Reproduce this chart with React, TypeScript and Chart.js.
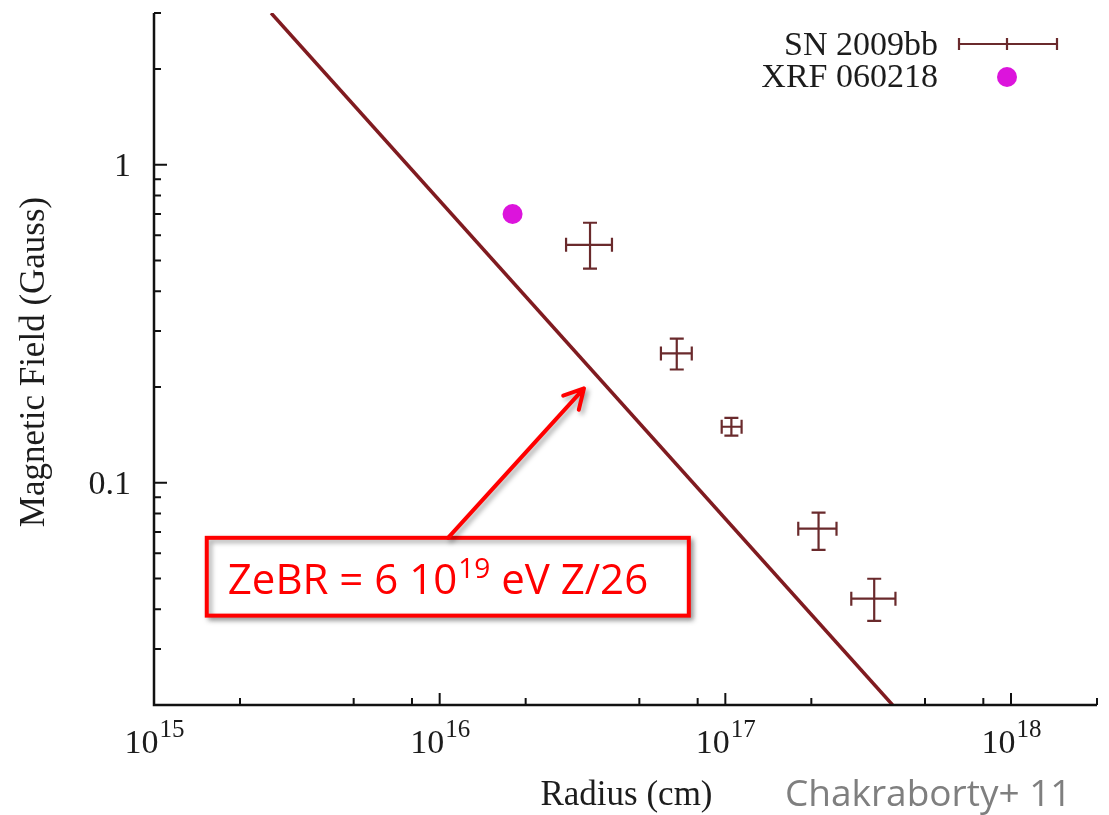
import React, { useEffect, useRef } from 'react';
import { Chart, registerables } from 'chart.js';

Chart.register(...registerables);

// ---- Data ----
const snRadius = [3.36e16, 6.76e16, 1.05e17, 2.12e17, 3.32e17];
const snField = [0.56, 0.255, 0.15, 0.0717, 0.0432];
const snRadiusLow = [2.77e16, 5.95e16, 9.71e16, 1.8e17, 2.76e17];
const snRadiusHigh = [4.01e16, 7.63e16, 1.14e17, 2.45e17, 3.94e17];
const snFieldLow = [0.471, 0.227, 0.1406, 0.0615, 0.0368];
const snFieldHigh = [0.657, 0.284, 0.16, 0.0805, 0.0499];

const xrfRadius = [1.8e16];
const xrfField = [0.7];

const limitRadius = [2.57e15, 3.85e17];
const limitField = [3, 0.02];

// ---- Axes / ticks ----
const X_MIN = 1e15;
const X_MAX = 2e18;
const Y_MIN = 0.02;
const Y_MAX = 3;
const xMajorTicks = [1e15, 1e16, 1e17, 1e18];
const xMajorExponents = ['15', '16', '17', '18'];
const xMinorMultipliers = [2, 5, 8];
const yMajorTicks = [1, 0.1];
const yMajorLabels = ['1', '0.1'];
const yMinorMultipliers = [2, 3, 4, 5, 6, 7, 8, 9];
const yDecades = [0.01, 0.1, 1];

const legendLabels = ['SN 2009bb', 'XRF 060218'];
const xTitle = 'Radius (cm)';
const yTitle = 'Magnetic Field (Gauss)';
const creditText = 'Chakraborty+ 11';

// annotation anchors in data space
const arrowTail = { x: 1.07e16, y: 0.0671 };
const arrowTip = { x: 3.2e16, y: 0.198 };
const noteBox = { x1: 1.53e15, x2: 7.45e16, y1: 0.0671, y2: 0.0382 };
const notePre = 'ZeBR = 6 10';
const noteSup = '19';
const notePost = ' eV Z/26';

const LINE_COLOR = '#801b20';
const ERR_COLOR = '#6a2a2c';
const XRF_COLOR = '#dc14dc';
const AXIS_COLOR = '#111111';
const TEXT_COLOR = '#1c1c1c';
const SERIF = '"Liberation Serif", "DejaVu Serif", serif';
const SANS = '"Open Sans", "Noto Sans", sans-serif';

const customPlugin = {
  id: 'customDraw',
  afterDatasetsDraw(chart: any) {
    const { ctx, chartArea: ca, scales } = chart;
    const px = (v: number) => scales.x.getPixelForValue(v);
    const py = (v: number) => scales.y.getPixelForValue(v);

    ctx.save();
    // error bars
    ctx.strokeStyle = ERR_COLOR;
    ctx.lineWidth = 2.2;
    const cap = 7;
    snRadius.forEach((r, i) => {
      const cx = px(r), cy = py(snField[i]);
      const x1 = px(snRadiusLow[i]), x2 = px(snRadiusHigh[i]);
      const y1 = py(snFieldHigh[i]), y2 = py(snFieldLow[i]);
      ctx.beginPath();
      ctx.moveTo(x1, cy); ctx.lineTo(x2, cy);
      ctx.moveTo(x1, cy - cap); ctx.lineTo(x1, cy + cap);
      ctx.moveTo(x2, cy - cap); ctx.lineTo(x2, cy + cap);
      ctx.moveTo(cx, y1); ctx.lineTo(cx, y2);
      ctx.moveTo(cx - cap, y1); ctx.lineTo(cx + cap, y1);
      ctx.moveTo(cx - cap, y2); ctx.lineTo(cx + cap, y2);
      ctx.stroke();
    });

    // axes lines
    ctx.strokeStyle = AXIS_COLOR;
    ctx.lineWidth = 2.5;
    ctx.beginPath();
    ctx.moveTo(ca.left, ca.top);
    ctx.lineTo(ca.left, ca.bottom);
    ctx.lineTo(ca.right, ca.bottom);
    ctx.stroke();

    // x ticks (inward)
    ctx.lineWidth = 2;
    ctx.beginPath();
    xMajorTicks.forEach((t) => {
      const x = px(t);
      ctx.moveTo(x, ca.bottom); ctx.lineTo(x, ca.bottom - 12);
      xMinorMultipliers.forEach((m) => {
        const v = t * m;
        if (v <= X_MAX * 1.0001) {
          const xm = px(v);
          ctx.moveTo(xm, ca.bottom); ctx.lineTo(xm, ca.bottom - 7);
        }
      });
    });
    // y ticks (inward)
    yMajorTicks.forEach((t) => {
      const y = py(t);
      ctx.moveTo(ca.left, y); ctx.lineTo(ca.left + 13, y);
    });
    yDecades.forEach((d) => {
      yMinorMultipliers.forEach((m) => {
        const v = d * m;
        if (v >= Y_MIN * 0.9999 && v <= Y_MAX * 1.0001) {
          const y = py(v);
          ctx.moveTo(ca.left, y); ctx.lineTo(ca.left + 7, y);
        }
      });
    });
    ctx.stroke();

    // tick labels
    ctx.fillStyle = TEXT_COLOR;
    ctx.textBaseline = 'alphabetic';
    xMajorTicks.forEach((t, i) => {
      const x = px(t);
      ctx.font = `34px ${SERIF}`;
      const wBase = ctx.measureText('10').width;
      ctx.font = `25px ${SERIF}`;
      const wSup = ctx.measureText(xMajorExponents[i]).width;
      const start = x - (wBase + wSup) / 2;
      ctx.textAlign = 'left';
      ctx.font = `34px ${SERIF}`;
      ctx.fillText('10', start, ca.bottom + 48);
      ctx.font = `25px ${SERIF}`;
      ctx.fillText(xMajorExponents[i], start + wBase + 1, ca.bottom + 32);
    });
    ctx.font = `34px ${SERIF}`;
    ctx.textAlign = 'right';
    ctx.textBaseline = 'middle';
    yMajorTicks.forEach((t, i) => {
      ctx.fillText(yMajorLabels[i], ca.left - 23, py(t) + 2);
    });

    // axis titles
    ctx.font = `35px ${SERIF}`;
    ctx.textAlign = 'center';
    ctx.textBaseline = 'alphabetic';
    ctx.fillText(xTitle, (ca.left + ca.right) / 2 + 1, ca.bottom + 100);
    ctx.save();
    ctx.translate(44, (ca.top + ca.bottom) / 2 + 3);
    ctx.rotate(-Math.PI / 2);
    ctx.fillText(yTitle, 0, 0);
    ctx.restore();

    // legend
    ctx.font = `34px ${SERIF}`;
    ctx.textAlign = 'right';
    ctx.textBaseline = 'middle';
    ctx.fillStyle = TEXT_COLOR;
    ctx.fillText(legendLabels[0], 938, 46);
    ctx.fillText(legendLabels[1], 938, 78);
    ctx.strokeStyle = ERR_COLOR;
    ctx.lineWidth = 2.2;
    ctx.beginPath();
    ctx.moveTo(959, 44); ctx.lineTo(1057, 44);
    ctx.moveTo(959, 38); ctx.lineTo(959, 50);
    ctx.moveTo(1057, 38); ctx.lineTo(1057, 50);
    ctx.moveTo(1007, 38); ctx.lineTo(1007, 50);
    ctx.stroke();
    ctx.fillStyle = XRF_COLOR;
    ctx.beginPath();
    ctx.arc(1007, 77, 10, 0, Math.PI * 2);
    ctx.fill();

    // annotation box
    const bx1 = px(noteBox.x1), bx2 = px(noteBox.x2);
    const by1 = py(noteBox.y1), by2 = py(noteBox.y2);
    ctx.save();
    ctx.shadowColor = 'rgba(0,0,0,0.35)';
    ctx.shadowBlur = 5;
    ctx.shadowOffsetX = 3;
    ctx.shadowOffsetY = 3;
    ctx.fillStyle = '#ffffff';
    ctx.strokeStyle = '#ff0000';
    ctx.lineWidth = 4;
    ctx.fillRect(bx1, by1, bx2 - bx1, by2 - by1);
    ctx.strokeRect(bx1, by1, bx2 - bx1, by2 - by1);
    // arrow
    const ax1 = px(arrowTail.x), ay1 = py(arrowTail.y);
    const ax2 = px(arrowTip.x), ay2 = py(arrowTip.y);
    const ang = Math.atan2(ay2 - ay1, ax2 - ax1);
    const head = 22;
    ctx.lineCap = 'round';
    ctx.lineJoin = 'round';
    ctx.beginPath();
    ctx.moveTo(ax1, ay1);
    ctx.lineTo(ax2, ay2);
    ctx.moveTo(ax2 - head * Math.cos(ang - 0.5), ay2 - head * Math.sin(ang - 0.5));
    ctx.lineTo(ax2, ay2);
    ctx.lineTo(ax2 - head * Math.cos(ang + 0.5), ay2 - head * Math.sin(ang + 0.5));
    ctx.stroke();
    ctx.restore();

    // annotation text
    ctx.fillStyle = '#ff0000';
    ctx.textAlign = 'left';
    ctx.textBaseline = 'alphabetic';
    const tx = bx1 + 21;
    const ty = by2 - 22;
    ctx.font = `42px ${SANS}`;
    ctx.fillText(notePre, tx, ty);
    let w = ctx.measureText(notePre).width;
    ctx.font = `28px ${SANS}`;
    ctx.fillText(noteSup, tx + w + 1, ty - 16);
    w += ctx.measureText(noteSup).width + 1;
    ctx.font = `42px ${SANS}`;
    ctx.fillText(notePost, tx + w, ty);

    // credit
    ctx.fillStyle = '#7f7f7f';
    ctx.font = `37px ${SANS}`;
    ctx.fillText(creditText, 785, 806);
    ctx.restore();
  },
};

export default function App() {
  const canvasRef = useRef<HTMLCanvasElement | null>(null);

  useEffect(() => {
    const canvas = canvasRef.current;
    if (!canvas) return;
    const chart = new Chart(canvas, {
      type: 'scatter',
      data: {
        datasets: [
          {
            type: 'line',
            label: 'limit',
            data: limitRadius.map((r, i) => ({ x: r, y: limitField[i] })),
            borderColor: LINE_COLOR,
            borderWidth: 3.5,
            pointRadius: 0,
            fill: false,
          } as any,
          {
            label: legendLabels[0],
            data: snRadius.map((r, i) => ({ x: r, y: snField[i] })),
            pointRadius: 0,
            backgroundColor: ERR_COLOR,
          },
          {
            label: legendLabels[1],
            data: xrfRadius.map((r, i) => ({ x: r, y: xrfField[i] })),
            pointRadius: 10,
            pointBorderWidth: 0,
            backgroundColor: XRF_COLOR,
            borderColor: XRF_COLOR,
          },
        ],
      },
      options: {
        animation: false,
        responsive: false,
        devicePixelRatio: 1,
        layout: {
          autoPadding: false,
          padding: { left: 154, right: 12, top: 13, bottom: 110 },
        },
        plugins: {
          legend: { display: false },
          tooltip: { enabled: false },
        },
        scales: {
          x: {
            type: 'logarithmic',
            min: X_MIN,
            max: X_MAX,
            display: false,
          },
          y: {
            type: 'logarithmic',
            min: Y_MIN,
            max: Y_MAX,
            display: false,
          },
        },
      },
      plugins: [customPlugin],
    } as any);
    return () => chart.destroy();
  }, []);

  return (
    <div style={{ position: 'absolute', left: 0, top: 0, width: 1109, height: 815, background: '#fff' }}>
      <canvas ref={canvasRef} width={1109} height={815} style={{ display: 'block' }} />
    </div>
  );
}
